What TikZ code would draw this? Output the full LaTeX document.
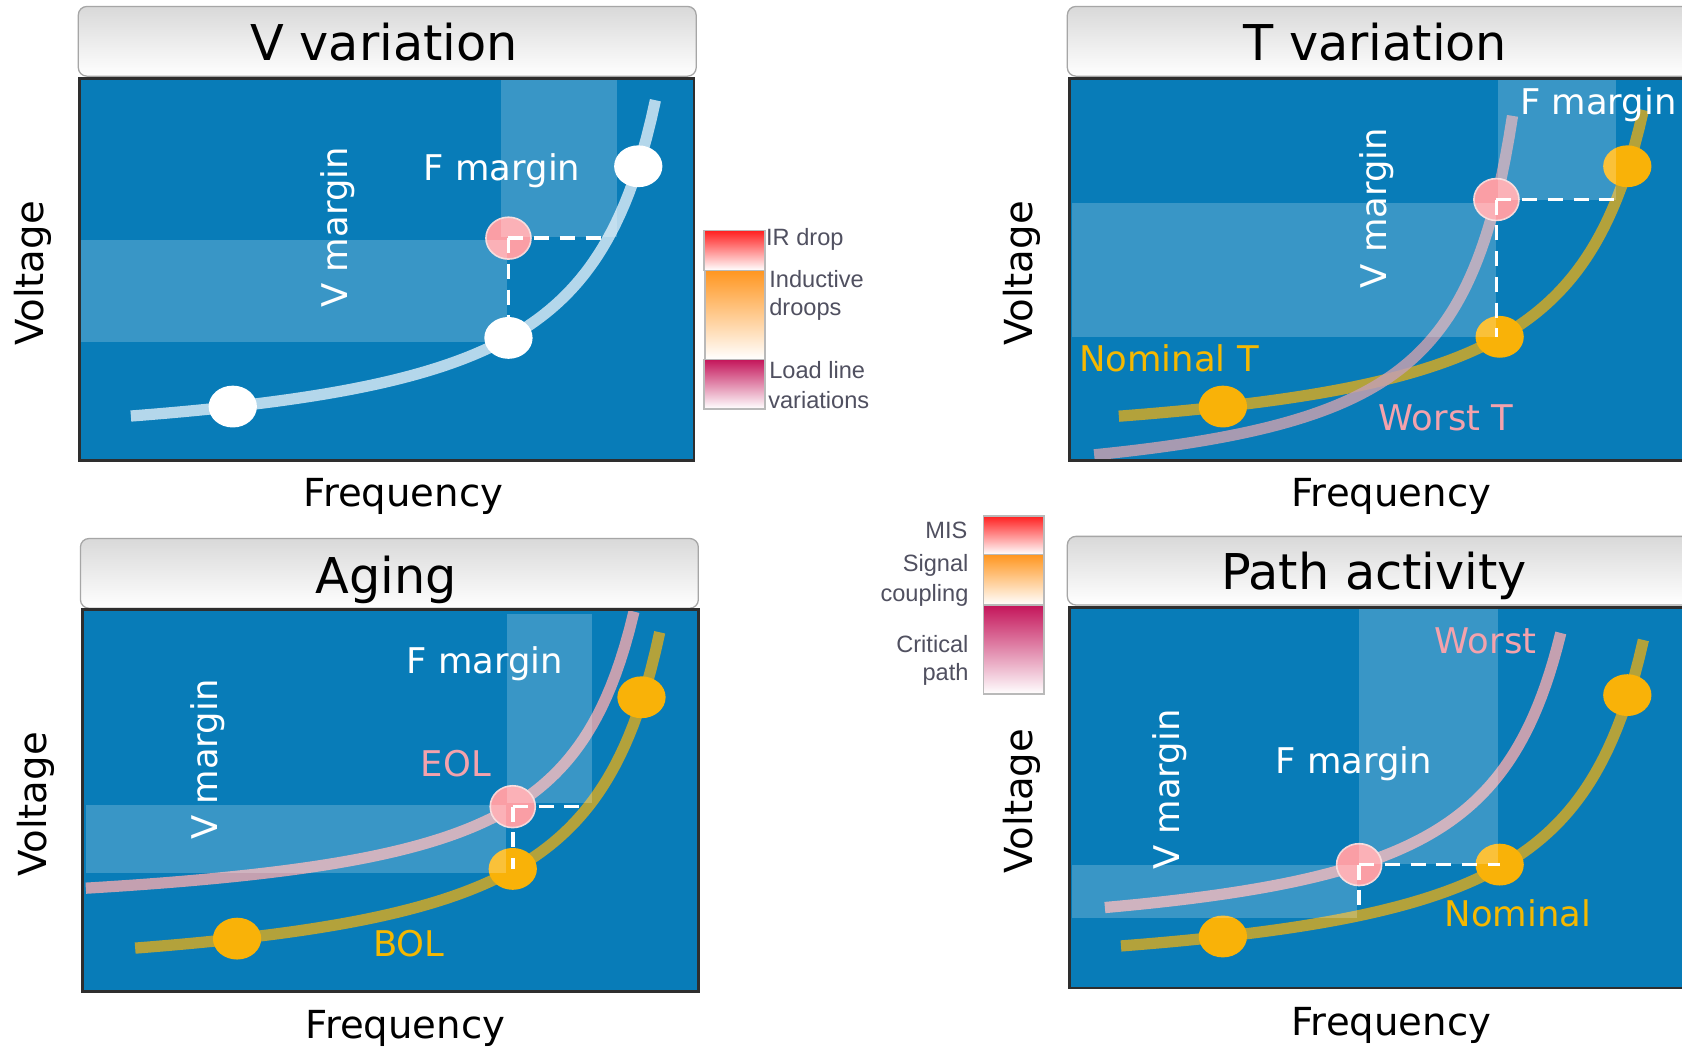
\documentclass[tikz,border=0pt]{standalone}
\usepackage{fontspec}
\setmainfont{DejaVu Sans}
\newfontfamily\legfont{Liberation Sans}
\usetikzlibrary{shapes.geometric}
\definecolor{plotblue}{HTML}{087CB8}
\definecolor{curveolive}{HTML}{B3A23B}
\definecolor{curvepink}{HTML}{C4A0B0}
\definecolor{curvelight}{HTML}{B4D7EB}
\definecolor{dotorange}{HTML}{F9B208}
\definecolor{dotred}{HTML}{FA9EA5}
\definecolor{dotredrim}{HTML}{F6D6D8}
\definecolor{txtorange}{HTML}{F5B800}
\definecolor{txtpink}{HTML}{F4A2AC}
\definecolor{legtextc}{HTML}{505060}
\definecolor{legred}{HTML}{FF2020}
\definecolor{legorange}{HTML}{FF9620}
\definecolor{legcrimson}{HTML}{C4155A}
\tikzset{
  titlebox/.style={rounded corners=8pt, draw=gray!70, line width=1.2pt, top color=gray!30, bottom color=white},
  plotframe/.style={draw=black!82, line width=2.6pt},
  bandfill/.style={fill=white, fill opacity=0.2},
  vcurve/.style={line width=10.5pt},
  wdot/.style={ellipse, fill=white, inner sep=0pt, minimum width=45pt, minimum height=39pt},
  odot/.style={ellipse, fill=dotorange, inner sep=0pt, minimum width=45pt, minimum height=39pt},
  rdot/.style={ellipse, fill=dotred, draw=dotredrim, line width=1.5pt, inner sep=0pt, minimum width=42pt, minimum height=39pt},
  dashline/.style={draw=white, line width=3.3pt, dash pattern=on 14pt off 10pt},
  titletext/.style={font=\fontsize{46}{50}\selectfont, text=black, anchor=base, inner sep=0pt},
  axistext/.style={font=\fontsize{36}{40}\selectfont, text=black, inner sep=0pt},
  margintext/.style={font=\fontsize{33}{36}\selectfont, text=white, inner sep=0pt},
  labtext/.style={font=\fontsize{33}{36}\selectfont, inner sep=0pt, anchor=base},
  legtext/.style={font=\legfont\fontsize{22}{24}\selectfont, text=legtextc, inner sep=0pt},
  legbox/.style={draw=gray!55, line width=1.5pt}
}
\begin{document}
\begin{tikzpicture}[x=1pt,y=-1pt]
\useasboundingbox (0,0) rectangle (1568,982);
\clip (0,0) rectangle (1568,982);
\fill[white] (0,0) rectangle (1568,982);

% ================= Panel 1: V variation =================
\draw[titlebox] (73,6) rectangle (649,71);
\node[titletext] (t1) at (358,56.6) {V variation};
\fill[plotblue] (74,73) rectangle (647,429);
\draw[vcurve, curvelight] plot[domain=122:611, samples=120] (\x, {431-242.04*(100/(682.7-\x))});
\node[wdot] (a1) at (217,379) {};
\node[wdot] (a2) at (474,315) {};
\node[wdot] (a3) at (595,155) {};
\node[rdot] (a4) at (474,222) {};
\fill[bandfill] (75,224) rectangle (473,319);
\fill[bandfill] (467,75) rectangle (575,221);
\coordinate (a5) at (563,222);
\draw[dashline] (a4.center) -- (a5);
\draw[dashline] (a4.center) -- (a2.center);
\node[margintext, rotate=90] (a6) at (315,212) {V margin};
\node[margintext, anchor=base] (a7) at (468,168) {F margin};
\node[axistext, rotate=90] (a8) at (31,255) {Voltage};
\node[axistext] (a9) at (376,463) {Frequency};
\draw[plotframe] (74,73) rectangle (647,429);

% legend 1
\draw[legbox, top color=legred, bottom color=white] (656,215) rectangle (713,252);
\draw[legbox, top color=legorange, bottom color=white] (657,252) rectangle (713,335);
\draw[legbox, top color=legcrimson, bottom color=white] (656,335) rectangle (713,381);
\node[legtext, anchor=west] (l1) at (714,223) {IR drop};
\node[legtext, anchor=west] (l2) at (717,260) {Inductive};
\node[legtext, anchor=west] (l3) at (717,288) {droops};
\node[legtext, anchor=west] (l4) at (717,345) {Load line};
\node[legtext, anchor=west] (l5) at (716,373) {variations};

% ================= Panel 2: T variation =================
\draw[titlebox] (995,6) rectangle (1620,71);
\node[titletext] (t2) at (1282,56.6) {T variation};
\fill[plotblue] (997,73) rectangle (1610,429);
\begin{scope}[shift={(923,0)}]
\draw[vcurve, curveolive] plot[domain=120:609, samples=120] (\x, {431-242.04*(100/(682.7-\x))});
\end{scope}
\draw[vcurve, curvepink, draw opacity=0.85] plot[domain=1020:1410, samples=120] (\x, {468.8-199.52*(100/(1465.3-\x))});
\node[odot] (b1) at (1140,379) {};
\node[odot] (b2) at (1398,314) {};
\node[odot] (b3) at (1517,155) {};
\node[rdot] (b4) at (1395,186) {};
\fill[bandfill] (999,189) rectangle (1395,314);
\fill[bandfill] (1396,75) rectangle (1506,186);
\coordinate (b5) at (1509,186);
\draw[dashline] (b4.center) -- (b5);
\draw[dashline] (b4.center) -- (b4.center |- b2.center);
\node[margintext, rotate=90] (b6) at (1283,194) {V margin};
\node[margintext, anchor=base] (b7) at (1490,107) {F margin};
\node[labtext, text=txtorange, anchor=base west] (b8) at (1006,346.5) {Nominal T};
\node[labtext, text=txtpink] (b9) at (1348,401) {Worst T};
\node[axistext, rotate=90] (b10) at (953,255) {Voltage};
\node[axistext] (b11) at (1297,463) {Frequency};
\draw[plotframe] (997,73) rectangle (1620,429);

% ================= Panel 3: Aging =================
\draw[titlebox] (75,502) rectangle (651,567);
\node[titletext] (t3) at (360,553) {Aging};
\fill[plotblue] (77,568) rectangle (651,924);
\begin{scope}[shift={(4,496)}]
\draw[vcurve, curveolive] plot[domain=122:611, samples=120] (\x, {431-242.04*(100/(682.7-\x))});
\end{scope}
\draw[vcurve, curvepink] plot[domain=80:591, samples=120] (\x, {862.7-201.28*(100/(659.8-\x))});
\node[odot] (c1) at (221,875) {};
\node[odot] (c2) at (478,810) {};
\node[odot] (c3) at (598,650) {};
\node[rdot] (c4) at (478,752) {};
\fill[bandfill] (80,750) rectangle (472,814);
\fill[bandfill] (473,572) rectangle (552,749);
\coordinate (c5) at (541,752);
\draw[dashline] (c4.center) -- (c5);
\draw[dashline] (c4.center) -- (c2.center);
\node[margintext, rotate=90] (c6) at (194,708) {V margin};
\node[margintext, anchor=base] (c7) at (452,628) {F margin};
\node[labtext, text=txtpink] (c8) at (425,724) {EOL};
\node[labtext, text=txtorange] (c9) at (381,892) {BOL};
\node[axistext, rotate=90] (c10) at (33,750) {Voltage};
\node[axistext] (c11) at (378,959) {Frequency};
\draw[plotframe] (77,568) rectangle (651,924);

% legend 2
\draw[legbox, top color=legred, bottom color=white] (917,481) rectangle (973,517);
\draw[legbox, top color=legorange, bottom color=white] (917,517) rectangle (973,564);
\draw[legbox, top color=legcrimson, bottom color=white] (917,564) rectangle (973,647);
\node[legtext, anchor=east] (m1) at (902,494) {MIS};
\node[legtext, anchor=east] (m2) at (903,527) {Signal};
\node[legtext, anchor=east] (m3) at (903,555) {coupling};
\node[legtext, anchor=east] (m4) at (903,600) {Critical};
\node[legtext, anchor=east] (m5) at (903,629) {path};

% ================= Panel 4: Path activity =================
\draw[titlebox] (995,500) rectangle (1620,564);
\node[titletext] (t4) at (1281,549.4) {Path activity};
\fill[plotblue] (997,566) rectangle (1610,921);
\begin{scope}[shift={(923,494)}]
\draw[vcurve, curveolive] plot[domain=122:609, samples=120] (\x, {431-242.04*(100/(682.7-\x))});
\end{scope}
\draw[vcurve, curvepink] plot[domain=1030:1455, samples=120] (\x, {890.1-219.63*(100/(1528.2-\x))});
\node[odot] (d1) at (1140,873) {};
\node[odot] (d2) at (1398,806) {};
\node[odot] (d3) at (1517,648) {};
\node[rdot] (d4) at (1267,806) {};
\fill[bandfill] (999,806) rectangle (1265,856);
\fill[bandfill] (1267,568) rectangle (1396,805);
\coordinate (d5) at (1267,846);
\draw[dashline] (d4.center) -- (d2.center);
\draw[dashline] (d4.center) -- (d5);
\node[margintext, rotate=90] (d6) at (1090,736) {V margin};
\node[margintext, anchor=base] (d7) at (1262,721) {F margin};
\node[labtext, text=txtpink] (d8) at (1385,609) {Worst};
\node[labtext, text=txtorange] (d9) at (1415,864) {Nominal};
\node[axistext, rotate=90] (d10) at (953,747) {Voltage};
\node[axistext] (d11) at (1297,956) {Frequency};
\draw[plotframe] (997,566) rectangle (1620,921);
\end{tikzpicture}
\end{document}
